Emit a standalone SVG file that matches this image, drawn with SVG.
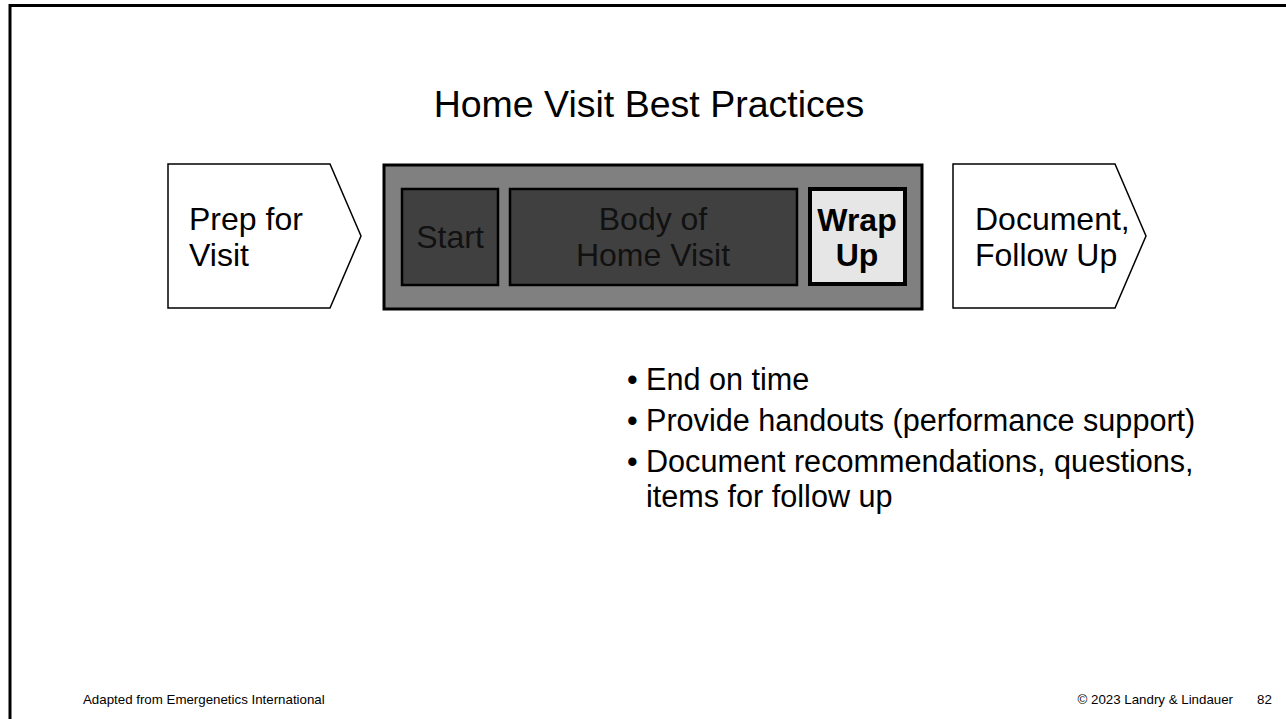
<svg xmlns="http://www.w3.org/2000/svg" width="1286" height="719" viewBox="0 0 1286 719">
<style>
text{font-family:"Liberation Sans",Arial,sans-serif;fill:#000}
.lbl{font-size:32px}
.dk{fill:#111}
.bul{font-size:30.6px}
.foot{font-size:13.3px}
.pent{fill:#fff;stroke:#000;stroke-width:1.5}
.inner{fill:#404040;stroke:#000;stroke-width:2.5}
</style>
<rect width="1286" height="719" fill="#fff"/>
<path d="M10 719 V5.5 H1286" fill="none" stroke="#000" stroke-width="3"/>
<text x="649" y="117" font-size="37.5" text-anchor="middle">Home Visit Best Practices</text>
<g id="prep">
<polygon class="pent" points="168,164 330,164 361,236 330,308 168,308"/>
<text class="lbl" x="189" y="230">Prep for</text>
<text class="lbl" x="189" y="266">Visit</text>
</g>
<g id="visit">
<rect x="384" y="165" width="538" height="144" fill="#808080" stroke="#000" stroke-width="3"/>
</g>
<g id="start">
<rect class="inner" x="402" y="189" width="96" height="96"/>
<text class="lbl dk" x="450" y="248" text-anchor="middle">Start</text>
</g>
<g id="body">
<rect class="inner" x="510" y="189" width="287" height="96"/>
<text class="lbl dk" x="653" y="230" text-anchor="middle">Body of</text>
<text class="lbl dk" x="653" y="266" text-anchor="middle">Home Visit</text>
</g>
<g id="wrap">
<rect x="810" y="189" width="95" height="95" fill="#e6e6e6" stroke="#000" stroke-width="4"/>
<text class="lbl" x="857" y="231" text-anchor="middle" font-weight="bold">Wrap</text>
<text class="lbl" x="857" y="266" text-anchor="middle" font-weight="bold">Up</text>
</g>
<g id="document">
<polygon class="pent" points="953,164 1115,164 1146,236 1115,308 953,308"/>
<text class="lbl" x="975" y="230">Document,</text>
<text class="lbl" x="975" y="266">Follow Up</text>
</g>
<g id="connectors"></g>
<g id="bullets" class="bul">
<text x="627" y="390">•</text><text x="646" y="390">End on time</text>
<text x="627" y="431">•</text><text x="646" y="431">Provide handouts (performance support)</text>
<text x="627" y="472">•</text><text x="646" y="472">Document recommendations, questions,</text>
<text x="646" y="507">items for follow up</text>
</g>
<text class="foot" x="83" y="704">Adapted from Emergenetics International</text>
<text class="foot" x="1233" y="704" text-anchor="end">© 2023 Landry &amp; Lindauer</text>
<text class="foot" x="1257" y="704">82</text>
</svg>
